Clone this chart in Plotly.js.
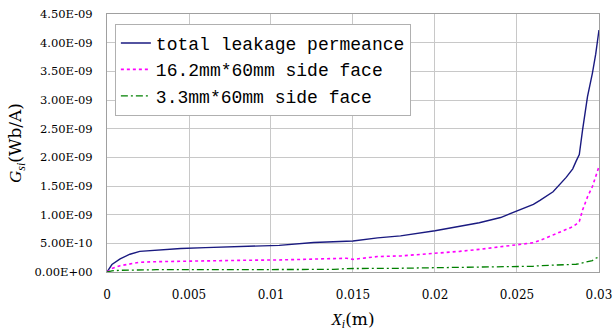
<!DOCTYPE html>
<html>
<head>
<meta charset="utf-8">
<script src="https://cdn.plot.ly/plotly-3.0.1.min.js"></script>
<style>html,body{margin:0;padding:0;background:#fff;}#chart{width:613px;height:336px;}</style>
</head>
<body>
<div id="chart"></div>
<script>
// Data
const xPos = [0, 0.0003, 0.0008, 0.0014, 0.002, 0.003, 0.0045, 0.006, 0.0077, 0.0085, 0.0105, 0.0126, 0.0138, 0.0146, 0.015, 0.0165, 0.0179, 0.02, 0.0215, 0.0227, 0.024, 0.025, 0.026, 0.0264, 0.0272, 0.028, 0.0284, 0.0286, 0.0288, 0.029, 0.0293, 0.0296, 0.0298, 0.03];
// values in units of 1e-10 Wb/A
const totalLeak = [0, 1.3, 2.3, 3.1, 3.6, 3.85, 4.1, 4.25, 4.4, 4.6, 4.65, 5.15, 5.3, 5.35, 5.4, 5.95, 6.3, 7.2, 8.0, 8.6, 9.5, 10.6, 11.8, 12.5, 14.0, 16.5, 18.0, 19.3, 20.5, 24.8, 30.6, 34.7, 38.0, 42.2];
const face162 = [0, 0.6, 1.1, 1.45, 1.7, 1.8, 1.9, 1.95, 2.0, 2.05, 2.1, 2.25, 2.4, 2.4, 2.2, 2.7, 2.8, 3.2, 3.6, 3.95, 4.4, 4.75, 5.1, 5.5, 6.45, 7.4, 7.9, 8.3, 8.8, 10.8, 13.1, 14.9, 16.5, 18.4];
const face33 = [0, 0.2, 0.3, 0.35, 0.4, 0.4, 0.4, 0.4, 0.4, 0.4, 0.45, 0.45, 0.45, 0.6, 0.6, 0.65, 0.65, 0.75, 0.8, 0.85, 0.9, 0.9, 1.0, 1.1, 1.15, 1.25, 1.3, 1.35, 1.45, 1.6, 1.75, 2.0, 2.4, 2.6];
const seriesNames = ["total leakage permeance", "16.2mm*60mm side face", "3.3mm*60mm side face"];
const yTickVals = [0, 0.5e-9, 1.0e-9, 1.5e-9, 2.0e-9, 2.5e-9, 3.0e-9, 3.5e-9, 4.0e-9, 4.5e-9];
const yTickText = ["0.00E+00", "5.00E-10", "1.00E-09", "1.50E-09", "2.00E-09", "2.50E-09", "3.00E-09", "3.50E-09", "4.00E-09", "4.50E-09"];
const xTickVals = [0, 0.005, 0.01, 0.015, 0.02, 0.025, 0.03];
const xTickText = ["0", "0.005", "0.01", "0.015", "0.02", "0.025", "0.03"];

const scale = v => v.map(d => d * 1e-10);
const serifW = "DejaVu Serif";
const serif = "Liberation Serif";
const mono = "Liberation Mono";

const traces = [
  {x: xPos, y: scale(totalLeak), name: seriesNames[0], mode: 'lines',
   line: {color: '#1a1a80', width: 1.4}},
  {x: xPos, y: scale(face162), name: seriesNames[1], mode: 'lines',
   line: {color: '#ff00ff', width: 1.6, dash: 'dot'}},
  {x: xPos, y: scale(face33), name: seriesNames[2], mode: 'lines',
   line: {color: '#008000', width: 1.3, dash: '7px,3px,2px,3px'}}
];

const layout = {
  width: 613, height: 336,
  margin: {l: 107, r: 14, t: 14, b: 64},
  paper_bgcolor: '#fff', plot_bgcolor: '#fff',
  showlegend: true,
  legend: {
    x: 0.016, y: 0.962, xanchor: 'left', yanchor: 'top',
    bgcolor: '#fff', bordercolor: '#b0b0b0', borderwidth: 1,
    font: {family: mono, size: 18, color: '#000'},
    tracegroupgap: 0
  },
  xaxis: {
    range: [0, 0.030001], tickvals: xTickVals, ticktext: xTickText,
    showgrid: true, gridcolor: '#c8c8c8', gridwidth: 1,
    showline: true, linecolor: '#a0a0a0', linewidth: 1, mirror: true,
    zeroline: false, ticks: '', ticklabelstandoff: 12, ticklabeloverflow: 'allow',
    tickfont: {family: serifW, size: 12, color: '#000'},
    title: {text: "<i>X</i><sub><i>i</i></sub><span style='font-family:DejaVu Serif'>(m)</span>",
            font: {family: serif, size: 17, color: '#000'}, standoff: 11}
  },
  yaxis: {
    range: [0, 4.5e-9], tickvals: yTickVals, ticktext: yTickText,
    showgrid: true, gridcolor: '#c8c8c8', gridwidth: 1,
    showline: true, linecolor: '#a0a0a0', linewidth: 1, mirror: true,
    zeroline: false, ticks: '', ticklabelstandoff: 11,
    tickfont: {family: serifW, size: 11.5, color: '#000'},
    title: {text: "<i>G</i><sub><i>si</i></sub><span style='font-family:DejaVu Serif'>(Wb/A)</span>",
            font: {family: serif, size: 17, color: '#000'}, standoff: 8}
  }
};

Plotly.newPlot('chart', traces, layout, {displayModeBar: false, staticPlot: true});
</script>
</body>
</html>
